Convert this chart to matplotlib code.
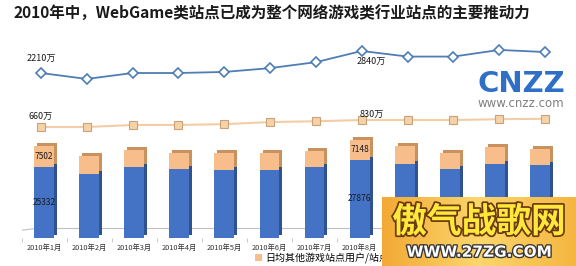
"""WebGame vs other game sites, 2010 monthly, bars + two trend lines."""

import numpy as np
import matplotlib
matplotlib.use('Agg')
import matplotlib.pyplot as plt
from matplotlib.transforms import offset_copy
import matplotlib.patheffects as pe

plt.rcParams['font.family'] = ['Noto Sans CJK SC', 'DejaVu Sans']

# data
months = ['2010年1月', '2010年2月', '2010年3月', '2010年4月', '2010年5月', '2010年6月',
          '2010年7月', '2010年8月', '2010年9月', '2010年10月', '2010年11月', '2010年12月']
webgame_line = [2210, 2040, 2210, 2210, 2240, 2350, 2520, 2840, 2680, 2680, 2870, 2810]
other_line = [660, 660, 710, 710, 730, 780, 800, 830, 830, 830, 850, 860]
webgame_bar = [25332, 23000, 25200, 24500, 24200, 24200, 25200, 27876, 26400, 24600, 26400, 26000]
other_bar = [7502, 6300, 6300, 6000, 6300, 6300, 6000, 7148, 6400, 5700, 6100, 5700]
bar_labels = [0, 7]

W, H = 576, 266
fig = plt.figure(figsize=(W / 100, H / 100), dpi=100)
fig.patch.set_facecolor('white')


def px_axes(x0, y0, x1, y1, **kw):
    """axes from pixel box (top-left origin)"""
    return fig.add_axes([x0 / W, 1 - y1 / H, (x1 - x0) / W, (y1 - y0) / H], **kw)


fig.text(13 / W, 1 - 14 / H, '2010年中，WebGame类站点已成为整个网络游戏类行业站点的主要推动力',
         fontsize=11.2, fontweight='bold', va='center', ha='left', color='#1a1a1a')

x = np.arange(len(months))

# ---- bars ----
axb = px_axes(21.5, 130, 562.5, 238)
axb.set_xlim(-0.5, 11.5)
axb.set_ylim(0, 38556)
bw = 0.44
depth = offset_copy(axb.transData, fig=fig, x=3, y=3, units='dots')
back1 = axb.bar(x, webgame_bar, bw, color='#2E5390', zorder=2)
back2 = axb.bar(x, other_bar, bw, bottom=webgame_bar, color='#C8915E', zorder=2)
for p in list(back1) + list(back2):
    p.set_transform(depth)
b1 = axb.bar(x, webgame_bar, bw, color='#4472C4', zorder=3, label='日均WebGame站点用户/站点数量')
b2 = axb.bar(x, other_bar, bw, bottom=webgame_bar, color='#F7BE8C', zorder=3,
             label='日均其他游戏站点用户/站点数量')

for i in bar_labels:
    axb.text(x[i], webgame_bar[i] / 2, str(webgame_bar[i]), ha='center', va='center',
             fontsize=6, color='#1a1a1a', zorder=5)
    axb.text(x[i], webgame_bar[i] + other_bar[i] / 2, str(other_bar[i]), ha='center',
             va='center', fontsize=6, color='#1a1a1a', zorder=5)

# floor
floor = offset_copy(axb.transData, fig=fig, x=0, y=10, units='dots')
axb.plot([-0.08, 11.5], [0, 0], color='#BFBFBF', lw=0.8, transform=floor, zorder=1)
axb.plot([-0.5, -0.08], [-800, 0], color='#BFBFBF', lw=0.8, zorder=1, transform=floor)
for s in ['top', 'right', 'left', 'bottom']:
    axb.spines[s].set_visible(False)
axb.set_yticks([])
axb.set_xticks(x)
axb.set_xticklabels(months, fontsize=5.3, color='#333333')
axb.set_xticks(np.arange(-0.5, 12, 1), minor=True)
axb.tick_params(axis='x', which='major', length=0, pad=4)
axb.tick_params(axis='x', which='minor', length=3, color='#BFBFBF')
axb.patch.set_alpha(0)

leg = axb.legend(handles=[b2, b1], loc='center left', bbox_to_anchor=(246 / W, 8 / H),
                 bbox_transform=fig.transFigure, ncol=2, frameon=False, fontsize=7.2,
                 handlelength=0.7, handleheight=0.7, handletextpad=0.3, columnspacing=0.8)

# ---- lines ----
axl = px_axes(18, 40, 568, 135)
axl.set_xlim(-0.5, 11.5)
axl.set_ylim(437, 3154)
axl.plot(x, webgame_line, color='#4F7DB5', lw=1.3, marker='D', ms=5,
         mfc='white', mec='#4F7DB5', mew=1.2)
axl.axis('off')

axo = px_axes(18, 40, 568, 135)
axo.set_xlim(-0.5, 11.5)
axo.set_ylim(466, 2774)
axo.plot(x, other_line, color='#F2CDA5', lw=1.5, marker='s', ms=6,
         mfc='#F5D2A8', mec='#C9A27A', mew=0.8)
axo.axis('off')

axl.annotate(f'{webgame_line[0]}万', (x[0], webgame_line[0]), xytext=(0, 9),
             textcoords='offset points', ha='center', fontsize=6.5, color='#1a1a1a')
axl.annotate(f'{webgame_line[7]}万', (x[7], webgame_line[7]), xytext=(7, -9),
             textcoords='offset points', ha='center', fontsize=6.5, color='#1a1a1a')
axo.annotate(f'{other_line[0]}万', (x[0], other_line[0]), xytext=(0, 6),
             textcoords='offset points', ha='center', fontsize=6.5, color='#1a1a1a')
axo.annotate(f'{other_line[7]}万', (x[7], other_line[7]), xytext=(7, 2),
             textcoords='offset points', ha='center', fontsize=6.5, color='#1a1a1a')

# CNZZ logo
fig.text(521 / W, 1 - 84 / H, 'CNZZ', fontsize=21, fontweight='bold', color='#2F6FC6',
         ha='center', va='center', family='DejaVu Sans')
fig.text(521 / W, 1 - 103 / H, 'www.cnzz.com', fontsize=8.5, color='#808080',
         ha='center', va='center', family='DejaVu Sans')

# site watermark
axw = px_axes(382, 197, 576, 266)
axw.set_zorder(10)
grad = np.linspace(0, 1, 200)[None, :] * np.ones((50, 1))
axw.imshow(grad, cmap=matplotlib.colors.LinearSegmentedColormap.from_list(
    'wm', ['#F3A935', '#FBD66B', '#F5B640']), aspect='auto', extent=(0, 1, 0, 1))
axw.set_xlim(0, 1)
axw.set_ylim(0, 1)
axw.axis('off')
axw.text(0.5, 0.64, '傲气战歌网', fontsize=25, fontweight='bold', color='#FFE83A',
         ha='center', va='center',
         path_effects=[pe.withStroke(linewidth=2.5, foreground='#6B3A10')])
axw.text(0.5, 0.2, 'WWW.27ZG.COM', fontsize=11, fontweight='bold', color='white',
         ha='center', va='center', family='DejaVu Sans',
         path_effects=[pe.withStroke(linewidth=2, foreground='#3A3A3A')])

fig.savefig('out.png', dpi=100)
